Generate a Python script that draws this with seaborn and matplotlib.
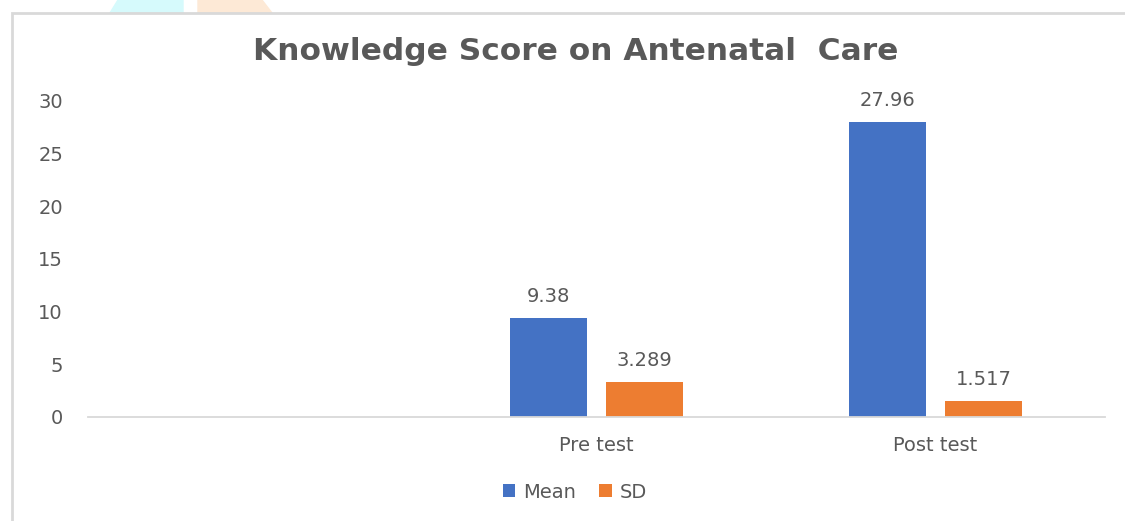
import numpy as np
import pandas as pd
import seaborn as sns
from matplotlib import pyplot as plt
from matplotlib.patches import Rectangle, Polygon

# ---- Data --------------------------------------------------------------------

categories = ["", "Pre test", "Post test"]
tests = ["Pre test", "Pre test", "Post test", "Post test"]
stats = ["Mean", "SD", "Mean", "SD"]
scores = [9.38, 3.289, 27.96, 1.517]
labels = ["9.38", "3.289", "27.96", "1.517"]

df = pd.DataFrame({"test": tests, "stat": stats, "score": scores})

# ---- Plot --------------------------------------------------------------------

sns.set_style("white")
plt.rcParams["font.family"] = ["DejaVu Sans"]
text_color = "#595959"
palette = {"Mean": "#4472C4", "SD": "#ED7D31"}

fig = plt.figure(figsize=(11.25, 5.21), dpi=100)

# watermark shapes peeking above the frame
fig.patches.append(Polygon([(110 / 1125, 1 - 13 / 521), (118 / 1125, 1.0), (183 / 1125, 1.0),
                            (183 / 1125, 1 - 13 / 521)], closed=True,
                           transform=fig.transFigure, color="#d6fafc", zorder=0))
fig.patches.append(Polygon([(198 / 1125, 1 - 13 / 521), (198 / 1125, 1.0), (262 / 1125, 1.0),
                            (272 / 1125, 1 - 13 / 521)], closed=True,
                           transform=fig.transFigure, color="#fde9d6", zorder=0))
# chart frame
fig.patches.append(Rectangle((12 / 1125, -0.1), 1.2, 1 - 13 / 521 + 0.1,
                             transform=fig.transFigure, fill=False,
                             edgecolor="#d9d9d9", linewidth=2, zorder=1))

ax = fig.add_axes([88 / 1125, 1 - 417 / 521, 1017 / 1125, 316 / 521])

sns.barplot(data=df, x="test", y="score", hue="stat", order=categories,
            hue_order=["Mean", "SD"], palette=palette, width=0.566, gap=0.2,
            saturation=1, linewidth=0, ax=ax, legend=True)

for container, idx in zip(ax.containers, [[0, 2], [1, 3]]):
    ax.bar_label(container, labels=[labels[i] for i in idx], padding=9,
                 fontsize=14, color=text_color)

ax.set_ylim(0, 30)
ax.set_yticks(range(0, 31, 5))
ax.set_xlim(-0.5, 2.5)
ax.set_xlabel("")
ax.set_ylabel("")
sns.despine(ax=ax, left=True, top=True, right=True)
ax.spines["bottom"].set_color("#d9d9d9")
ax.spines["bottom"].set_linewidth(1.3)
ax.tick_params(axis="y", length=0, pad=18, labelsize=14, labelcolor=text_color)
ax.tick_params(axis="x", length=0, pad=14, labelsize=14, labelcolor=text_color)

ax.legend(loc="center", bbox_to_anchor=(575 / 1125, 1 - 492 / 521),
          bbox_transform=fig.transFigure, ncol=2, frameon=False,
          fontsize=14, labelcolor=text_color, handlelength=0.65,
          handleheight=0.65, handletextpad=0.4, columnspacing=1.2)

fig.text(576 / 1125, 1 - 52 / 521, "Knowledge Score on Antenatal  Care",
         ha="center", va="center", fontsize=22.5, fontweight="bold",
         color=text_color)

fig.savefig("out.png", dpi=100)
